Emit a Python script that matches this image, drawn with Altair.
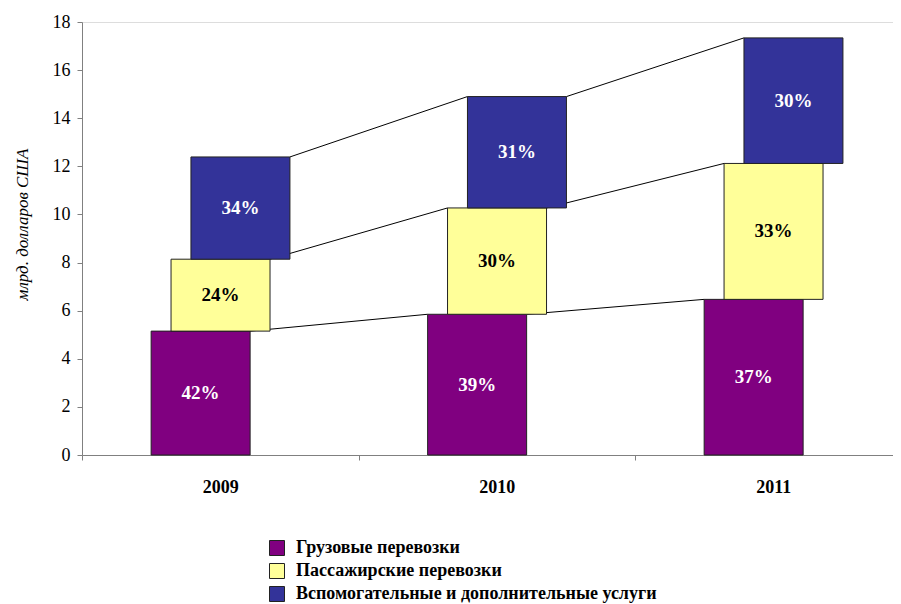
import altair as alt
import pandas as pd

years = ["2009", "2010", "2011"]
series = ["Грузовые перевозки", "Пассажирские перевозки", "Вспомогательные и дополнительные  услуги"]
values = {
    "Грузовые перевозки": [5.15, 5.85, 6.47],
    "Пассажирские перевозки": [2.99, 4.42, 5.65],
    "Вспомогательные и дополнительные  услуги": [4.25, 4.63, 5.22],
}
pct_labels = {
    "Грузовые перевозки": ["42%", "39%", "37%"],
    "Пассажирские перевозки": ["24%", "30%", "33%"],
    "Вспомогательные и дополнительные  услуги": ["34%", "31%", "30%"],
}
colors = ["#800080", "#FFFF99", "#333399"]
text_colors = ["white", "black", "white"]

# layout constants (in band units of the x scale)
BAR_START = 0.25
BAR_W = 0.358
STEP = 0.072

rows = []
for i, yr in enumerate(years):
    base = 0.0
    for j, s in enumerate(series):
        v = values[s][i]
        x0 = i + BAR_START + STEP * j
        rows.append(dict(year=yr, series=s, sidx=j, yidx=i, start=base, end=base + v,
                         x=x0, x2=x0 + BAR_W, xm=x0 + BAR_W / 2, ym=base + v / 2,
                         label=pct_labels[s][i], txtcol=text_colors[j]))
        base += v
df = pd.DataFrame(rows)

lines = []
for j, s in enumerate(series):
    for i in range(len(years) - 1):
        a = df[(df.sidx == j) & (df.yidx == i)].iloc[0]
        b = df[(df.sidx == j) & (df.yidx == i + 1)].iloc[0]
        lines.append(dict(series=s, xa=a.x2, ya=a.end, xb=b.x, yb=b.end))
ldf = pd.DataFrame(lines)

expr = "''"
for i, yr in reversed(list(enumerate(years))):
    expr = f"datum.value == {i + 0.5} ? '{yr}' : " + expr

xscale = alt.Scale(domain=[0, 2.933], nice=False, zero=False)
yscale = alt.Scale(domain=[0, 18], nice=False)

serif = "Times New Roman, Liberation Serif, Times, serif"

xaxis = alt.Axis(
    values=[0, 0.5, 1, 1.5, 2, 2.5],
    labelExpr=expr,
    title=None,
    grid=False,
    domainColor="#808080",
    tickColor="#808080",
    tickOpacity={"condition": {"test": "datum.value % 1 != 0", "value": 0}, "value": 1},
    tickSize=5,
    labelFont=serif,
    labelFontSize=18,
    labelFontWeight="bold",
    labelColor="black",
    labelPadding=18,
    labelFlush=False,
    labelOverlap=False,
)
yaxis = alt.Axis(
    values=list(range(0, 19, 2)),
    title="млрд. долларов США",
    titleFont=serif,
    titleFontSize=17,
    titleFontStyle="italic",
    titleFontWeight="normal",
    titleColor="black",
    titleAngle=-90,
    titleX=-60,
    titleY=202,
    titleAlign="center",
    titleBaseline="middle",
    grid=False,
    domainColor="#808080",
    tickColor="#808080",
    tickSize=5,
    labelFont=serif,
    labelFontSize=18,
    labelColor="black",
    labelPadding=7,
)

rules = alt.Chart(ldf).mark_rule(color="black", strokeWidth=1).encode(
    x=alt.X("xa:Q", scale=xscale, axis=xaxis),
    x2="xb:Q",
    y=alt.Y("ya:Q", scale=yscale, axis=yaxis),
    y2="yb:Q",
)

bars = alt.Chart(df).mark_rect(stroke="#222222", strokeWidth=1).encode(
    x=alt.X("x:Q", scale=xscale, axis=xaxis),
    x2="x2:Q",
    y=alt.Y("start:Q", scale=yscale, axis=yaxis),
    y2="end:Q",
    color=alt.Color(
        "series:N",
        scale=alt.Scale(domain=series, range=colors),
        sort=series,
        legend=alt.Legend(
            title=None,
            orient="none",
            legendX=186,
            legendY=517,
            direction="vertical",
            symbolType="square",
            symbolSize=225,
            symbolStrokeColor="#222222",
            symbolStrokeWidth=1,
            symbolOpacity=1,
            labelFont=serif,
            labelFontSize=18,
            labelFontWeight="bold",
            labelColor="black",
            labelLimit=600,
            rowPadding=3,
            labelOffset=10,
        ),
    ),
)

texts = alt.Chart(df).mark_text(font=serif, fontSize=19, fontWeight="bold").encode(
    x=alt.X("xm:Q", scale=xscale, axis=xaxis),
    y=alt.Y("ym:Q", scale=yscale, axis=yaxis),
    text="label:N",
    color=alt.Color("txtcol:N", scale=None),
)

chart = alt.layer(rules, bars, texts).properties(
    width=811,
    height=433,
    autosize=alt.AutoSizeParams(type="none"),
    padding={"left": 74, "top": 14, "right": 0, "bottom": 149},
).configure_view(stroke=None).configure(background="white")

chart.save("out.html", embed_options={"renderer": "svg", "actions": False})
